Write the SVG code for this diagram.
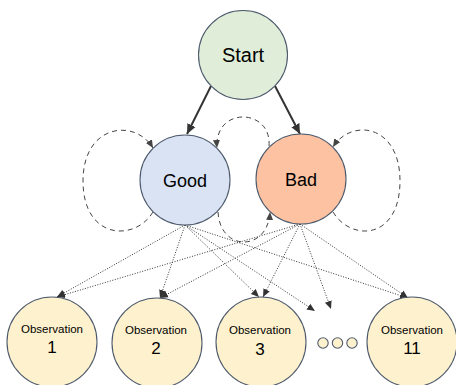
<svg xmlns="http://www.w3.org/2000/svg" width="456" height="385" viewBox="0 0 456 385">
  <style>
    .state { stroke: #4e5b6d; stroke-width: 1.1; }
    .lbl { font-family: "Liberation Sans", Arial, sans-serif; fill: #000; text-anchor: middle; }
    .big { font-size: 18px; }
    .obs { font-size: 11.5px; }
    .num { font-size: 17px; }
    .solid { fill: none; stroke: #333; stroke-width: 2; }
    .dash { fill: none; stroke: #444; stroke-width: 1; stroke-dasharray: 5 4; }
    .dot { fill: none; stroke: #333; stroke-width: 1; stroke-dasharray: 1 1.6; }
  </style>
  <defs>
    <marker id="headSolid" markerUnits="userSpaceOnUse" markerWidth="12" markerHeight="12" refX="10" refY="5" orient="auto">
      <path d="M0,0.5 L10,5 L0,9.5 Z" fill="#333"/>
    </marker>
    <marker id="headDash" markerUnits="userSpaceOnUse" markerWidth="10" markerHeight="10" refX="8" refY="4" orient="auto">
      <path d="M0,0.5 L8,4 L0,7.5 Z" fill="#444"/>
    </marker>
    <marker id="headDot" markerUnits="userSpaceOnUse" markerWidth="10" markerHeight="10" refX="8" refY="4" orient="auto">
      <path d="M0,0.5 L8,4 L0,7.5 Z" fill="#333"/>
    </marker>
  </defs>

  <rect width="456" height="385" fill="#fff"/>

  <!-- transitions and emissions -->
  <g id="connectors">
    <!-- start probabilities -->
    <path class="solid" d="M211,86 L187,134" marker-end="url(#headSolid)"/>
    <path class="solid" d="M275,86 L300,134" marker-end="url(#headSolid)"/>

    <!-- state transitions -->
    <path class="dash" d="M153,212 C135,242 83,240 83,181 C83,124 135,118 153,148" marker-end="url(#headDash)"/>
    <path class="dash" d="M333,212 C351,242 400,240 400,181 C400,124 351,118 333,147" marker-end="url(#headDash)"/>
    <path class="dash" d="M269,146 C272,108 214,106 217,148" marker-end="url(#headDash)"/>
    <path class="dash" d="M218,212 C220,252 268,252 270,212" marker-end="url(#headDash)"/>

    <!-- emissions from Good -->
    <path class="dot" d="M185,225 L57,297" marker-end="url(#headDot)"/>
    <path class="dot" d="M185,225 L160,298" marker-end="url(#headDot)"/>
    <path class="dot" d="M185,225 L259,297" marker-end="url(#headDot)"/>
    <path class="dot" d="M185,225 L315,311" marker-end="url(#headDot)"/>
    <path class="dot" d="M185,225 L408,298" marker-end="url(#headDot)"/>

    <!-- emissions from Bad -->
    <path class="dot" d="M300,224 L57,297" marker-end="url(#headDot)"/>
    <path class="dot" d="M300,224 L160,298" marker-end="url(#headDot)"/>
    <path class="dot" d="M300,224 L263,297" marker-end="url(#headDot)"/>
    <path class="dot" d="M300,224 L331,309" marker-end="url(#headDot)"/>
    <path class="dot" d="M300,224 L408,298" marker-end="url(#headDot)"/>
  </g>

  <g id="start">
    <circle class="state" cx="243" cy="55" r="44.5" fill="#e0eed9"/>
    <text class="lbl" x="243" y="62" font-size="20">Start</text>
  </g>

  <g id="good">
    <circle class="state" cx="185" cy="180" r="45" fill="#d9e3f4"/>
    <text class="lbl big" x="185" y="186.5">Good</text>
  </g>

  <g id="bad">
    <circle class="state" cx="301" cy="179" r="45" fill="#fdc2a2"/>
    <text class="lbl big" x="301" y="185.5">Bad</text>
  </g>

  <g id="obs1">
    <circle class="state" cx="52" cy="342" r="45" fill="#fef1cd"/>
    <text class="lbl obs" x="52" y="333">Observation</text>
    <text class="lbl num" x="52" y="353">1</text>
  </g>

  <g id="obs2">
    <circle class="state" cx="157" cy="343" r="45" fill="#fef1cd"/>
    <text class="lbl obs" x="156" y="333.5">Observation</text>
    <text class="lbl num" x="156" y="354">2</text>
  </g>

  <g id="obs3">
    <circle class="state" cx="261" cy="342" r="45" fill="#fef1cd"/>
    <text class="lbl obs" x="260" y="334">Observation</text>
    <text class="lbl num" x="260" y="355">3</text>
  </g>

  <g id="ellipsis">
    <circle class="state" cx="323" cy="343" r="5.2" fill="#fef1cd"/>
    <circle class="state" cx="337.5" cy="343" r="5.2" fill="#fef1cd"/>
    <circle class="state" cx="352" cy="343" r="5.2" fill="#fef1cd"/>
  </g>

  <g id="obs11">
    <circle class="state" cx="412" cy="342" r="45" fill="#fef1cd"/>
    <text class="lbl obs" x="412" y="333.5">Observation</text>
    <text class="lbl num" x="412" y="354">11</text>
  </g>
</svg>
